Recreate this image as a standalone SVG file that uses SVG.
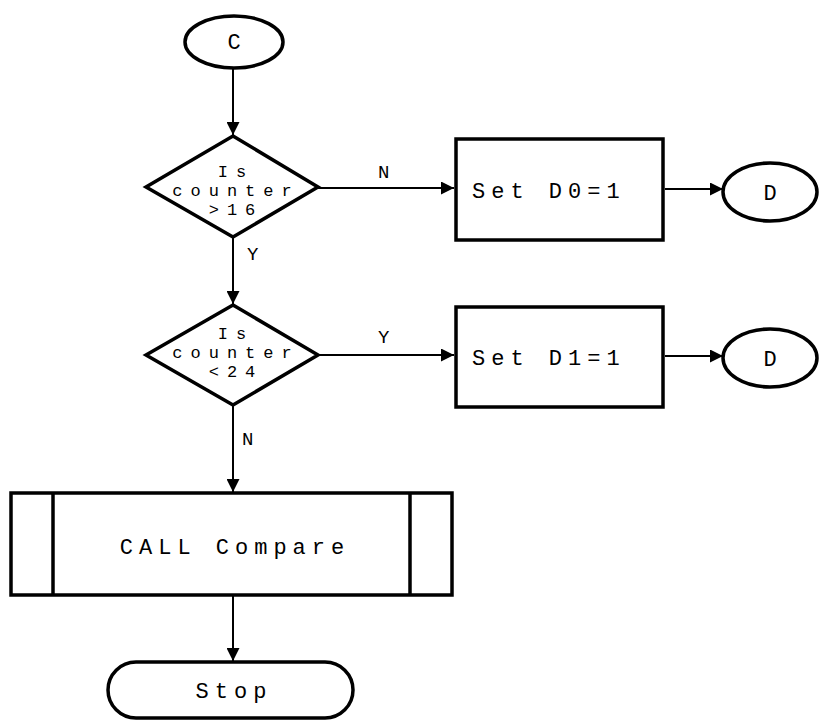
<svg xmlns="http://www.w3.org/2000/svg" width="819" height="721" viewBox="0 0 819 721">
<style>
.s{fill:#fff;stroke:#000;stroke-width:3.5}
.c{fill:none;stroke:#000;stroke-width:2}
text{font-family:"Liberation Mono","DejaVu Sans Mono",monospace;font-size:22px;fill:#000;letter-spacing:6px}
.m{text-anchor:middle}
.d{font-size:17px;letter-spacing:8px}
.l{font-size:19px;letter-spacing:0}
</style>
<defs>
<marker id="a" viewBox="0 0 12 12" refX="12" refY="6" markerWidth="13" markerHeight="13" markerUnits="userSpaceOnUse" orient="auto">
<path d="M0,0 L12,6 L0,12 Z" fill="#000"/>
</marker>
</defs>
<rect width="819" height="721" fill="#fff"/>
<g id="connectors">
<line class="c" x1="233" y1="68" x2="233" y2="135" marker-end="url(#a)"/>
<line class="c" x1="233" y1="238" x2="233" y2="304" marker-end="url(#a)"/>
<line class="c" x1="233" y1="406" x2="233" y2="492" marker-end="url(#a)"/>
<line class="c" x1="233" y1="596" x2="233" y2="661" marker-end="url(#a)"/>
<line class="c" x1="318" y1="188" x2="454" y2="188" marker-end="url(#a)"/>
<line class="c" x1="318" y1="355" x2="454" y2="355" marker-end="url(#a)"/>
<line class="c" x1="665" y1="189" x2="723" y2="189" marker-end="url(#a)"/>
<line class="c" x1="665" y1="356" x2="723" y2="356" marker-end="url(#a)"/>
<text class="l" x="247" y="260">Y</text>
<text class="l" x="242" y="445">N</text>
<text class="l" x="378" y="178">N</text>
<text class="l" x="378" y="343">Y</text>
</g>
<g id="c-start">
<ellipse class="s" cx="234" cy="42" rx="49" ry="26"/>
<text class="m" x="237" y="49">C</text>
</g>
<g id="dec1">
<polygon class="s" points="233,136 318,187 233,237 146,187"/>
<text class="m d" x="236" y="177">Is</text>
<text class="m d" x="236" y="196">counter</text>
<text class="m d" x="236" y="215">&gt;16</text>
</g>
<g id="dec2">
<polygon class="s" points="233,305 318,355 233,405 146,355"/>
<text class="m d" x="236" y="339">Is</text>
<text class="m d" x="236" y="358">counter</text>
<text class="m d" x="236" y="377">&lt;24</text>
</g>
<g id="set0">
<rect class="s" x="456" y="139" width="207" height="101"/>
<text x="472" y="198">Set D0=1</text>
</g>
<g id="set1">
<rect class="s" x="456" y="307" width="207" height="100"/>
<text x="472" y="365">Set D1=1</text>
</g>
<g id="d1">
<ellipse class="s" cx="770" cy="192" rx="47" ry="29"/>
<text class="m" x="773" y="200">D</text>
</g>
<g id="d2">
<ellipse class="s" cx="770" cy="358" rx="47" ry="29"/>
<text class="m" x="773" y="366">D</text>
</g>
<g id="call">
<rect class="s" x="11" y="493" width="441" height="102"/>
<line class="s" x1="53" y1="493" x2="53" y2="595"/>
<line class="s" x1="410" y1="493" x2="410" y2="595"/>
<text class="m" x="235" y="554">CALL Compare</text>
</g>
<g id="stop">
<rect class="s" x="108" y="662" width="245" height="56" rx="28" ry="28"/>
<text class="m" x="234" y="698">Stop</text>
</g>
</svg>
